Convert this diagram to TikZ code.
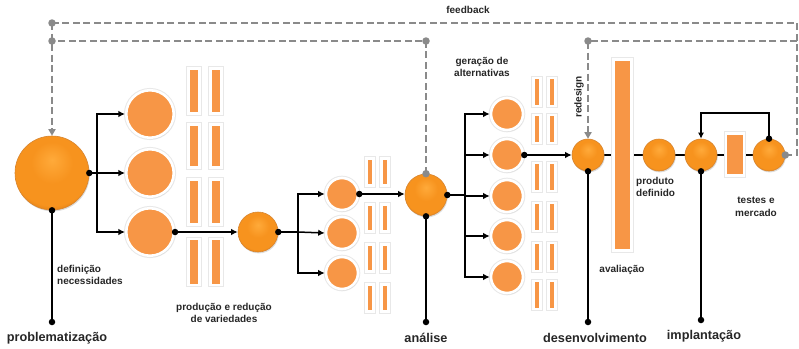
\documentclass[tikz,border=0pt]{standalone}
\usepackage{fontspec}
\setmainfont{Liberation Sans}
\usetikzlibrary{arrows.meta,shadows,backgrounds}
\definecolor{oflat}{HTML}{F79646}
\definecolor{ogloss}{HTML}{F7931E}
\definecolor{olight}{HTML}{FFAA3A}
\definecolor{odark}{HTML}{D0700C}
\definecolor{fbgrey}{HTML}{8A8A8A}
\definecolor{txt}{HTML}{262626}
% glossy orange ball: light spot above the centre, darker rim below
\pgfdeclareradialshading{glossy}{\pgfpoint{0bp}{9bp}}{%
  color(0bp)=(olight); color(14bp)=(ogloss); color(27bp)=(ogloss); color(34bp)=(odark); color(60bp)=(odark)}
\begin{document}
\begin{tikzpicture}[x=1pt,y=-1pt,
  soft/.style={preaction={draw=black!9,line width=4.6pt},
    drop shadow={opacity=0.22,shadow xshift=0.8pt,shadow yshift=-1.4pt}},
  flatc/.style={circle,inner sep=0pt,minimum size=#1,fill=oflat,draw=white,line width=2.6pt,soft},
  glossc/.style={circle,inner sep=0pt,minimum size=#1,shading=glossy,draw=odark!85,line width=0.6pt,
    drop shadow={opacity=0.28,shadow xshift=0.8pt,shadow yshift=-1.4pt}},
  barnode/.style 2 args={rectangle,inner sep=0pt,minimum width=#1,minimum height=#2,fill=oflat,
    draw=white,line width=2.6pt,soft},
  dot/.style={circle,fill=black,inner sep=0pt,minimum size=6.5pt},
  gdot/.style={circle,fill=fbgrey,inner sep=0pt,minimum size=7.5pt},
  link/.style={line width=1.5pt,-{Latex[length=6.5pt,width=6.5pt]}},
  plain/.style={line width=1.6pt},
  stem/.style={line width=2.8pt},
  fb/.style={fbgrey,line width=2.9pt,dash pattern=on 7pt off 3.5pt},
  fbarrow/.style={fb,-{Triangle[length=6.5pt,width=7pt]}},
  lbl/.style={font=\bfseries\fontsize{10}{12.5}\selectfont,text=txt,align=center,inner sep=0pt},
  big/.style={font=\bfseries\fontsize{12.7}{14}\selectfont,text=txt,inner sep=0pt}
]
\useasboundingbox (0,0) rectangle (799,348);

% ---------- main glossy stage circles ----------
\node[glossc=74pt] (P) at (52,173) {};
\node[glossc=40pt] (G) at (258,232) {};
\node[glossc=42pt] (A) at (426,195) {};
\node[glossc=32pt] (D) at (588,155) {};
\node[glossc=32pt] (PD) at (659,155) {};
\node[glossc=32pt] (I) at (701,155) {};
\node[glossc=32pt] (T) at (769,155) {};

% ---------- variety circles ----------
\node[flatc=47.5pt] (c1) at (150,114) {};
\node[flatc=47.5pt] (c2) at (150,173) {};
\node[flatc=47.5pt] (c3) at (150,232) {};
\node[flatc=32pt] (s1) at (342,194) {};
\node[flatc=32pt] (s2) at (342,233) {};
\node[flatc=32pt] (s3) at (342,273) {};
\node[flatc=32pt] (g1) at (507,114) {};
\node[flatc=32pt] (g2) at (507,155) {};
\node[flatc=32pt] (g3) at (507,196) {};
\node[flatc=32pt] (g4) at (507,236) {};
\node[flatc=32pt] (g5) at (507,277) {};

% ---------- bars ----------
\foreach \y/\h [count=\i] in {91/44.5,146/42.5,202/44.5,262/46} {
  \node[barnode={10.5pt}{\h pt}] (ba\i) at (194,\y) {};
  \node[barnode={10.5pt}{\h pt}] (bb\i) at (216,\y) {};
}
\foreach \y [count=\i] in {172,218,258,298} {
  \node[barnode={7.5pt}{27.5pt}] (bc\i) at (370,\y) {};
  \node[barnode={7.5pt}{27.5pt}] (bd\i) at (385,\y) {};
}
\foreach \y [count=\i] in {92,129,177,217,257,295} {
  \node[barnode={7.5pt}{28pt}] (be\i) at (537,\y) {};
  \node[barnode={7.5pt}{28pt}] (bf\i) at (552,\y) {};
}
\node[barnode={18pt}{191pt}] (eval) at (622.5,155) {};
\node[barnode={18pt}{42.5pt}] (test) at (735,154.5) {};

% ---------- connectors behind the shapes ----------
\begin{scope}[on background layer]
  \coordinate (fbR) at (797,155);
  \coordinate (fbTR) at (797,23);
  \coordinate (fbTL) at (52,23);
  \coordinate (fbML) at (52,41);
  \coordinate (fbMA) at (426,41);
  \coordinate (fbMD) at (588,41);
  \coordinate (fbMR) at (797,41);
  \draw[fb] (T.east) -- (fbR) -- (fbTR) -- (fbTL);
  \draw[fbarrow] (fbTL) -- (P.north);
  \draw[fb] (A.north) -- (fbMA) -- (fbML);
  \draw[fbarrow] (fbMR) -- (fbMD) -- (D.north);
  \draw[plain] (D) -- (T);
\end{scope}

% ---------- stems to the phase labels ----------
\coordinate (Pend) at (52,322);
\coordinate (Aend) at (426,322);
\coordinate (Dend) at (588,322);
\coordinate (Iend) at (701,320);
\draw[stem] (P.south) -- (Pend);
\draw[stem] (A.south) -- (Aend);
\draw[stem] (D.south) -- (Dend);
\draw[stem] (I.south) -- (Iend);
\foreach \n in {P.south,Pend,A.south,Aend,D.south,Dend,I.south,Iend}
  \node[dot] at (\n) {};

% ---------- branching arrows ----------
\coordinate (b1) at (97,173);
\draw[plain] (P.east) -- (b1);
\draw[link] (b1) |- (c1.west);
\draw[link] (b1) -- (c2.west);
\draw[link] (b1) |- (c3.west);
\node[dot] at (P.east) {};

\draw[link] (c3.east) -- (G.west);
\node[dot] at (c3.east) {};

\coordinate (b2) at (298,232);
\draw[plain] (G.east) -- (b2);
\draw[link] (b2) |- (s1.west);
\draw[link] (b2) -- (s2.west);
\draw[link] (b2) |- (s3.west);
\node[dot] at (G.east) {};

\draw[link] (s1.east) -- (s1.east -| A.west);
\node[dot] at (s1.east) {};

\coordinate (b3) at (465,195);
\draw[plain] (A.east) -- (b3);
\draw[link] (b3) |- (g1.west);
\draw[link] (b3) |- (g2.west);
\draw[link] (b3) |- (g3.west);
\draw[link] (b3) |- (g4.west);
\draw[link] (b3) |- (g5.west);
\node[dot] at (A.east) {};

\draw[link] (g2.east) -- (D.west);
\node[dot] at (g2.east) {};

% loop from the last stage back into implantation
\coordinate (loopR) at (769,113);
\draw[line width=1.4pt,-{Latex[length=6pt,width=6pt]}] (T.north) -- (loopR) -| (I.north);
\node[dot] at (T.north) {};

% feedback junction dots
\foreach \n in {fbTL,fbML,fbMA,fbMD,A.north,T.east}
  \node[gdot] at (\n) {};

% ---------- labels ----------
\node[big] (lP) at (57,338) {problematização};
\node[big] (lA) at (426,338) {análise};
\node[big] (lD) at (595,338) {desenvolvimento};
\node[big] (lI) at (704,336) {implantação};
\node[lbl,align=left,anchor=west] (lN) at (57,275) {definição\\necessidades};
\node[lbl] (lV) at (224,313) {produção e redução\\de variedades};
\node[lbl] (lF) at (468,10) {feedback};
\node[lbl] (lG) at (482,67) {geração de\\alternativas};
\node[lbl,rotate=90] (lR) at (579,97) {redesign};
\node[lbl,align=left,anchor=west] (lPD) at (636,187) {produto\\definido};
\node[lbl] (lAv) at (622,270) {avaliação};
\node[lbl] (lT) at (756,207) {testes e\\mercado};
\end{tikzpicture}
\end{document}
